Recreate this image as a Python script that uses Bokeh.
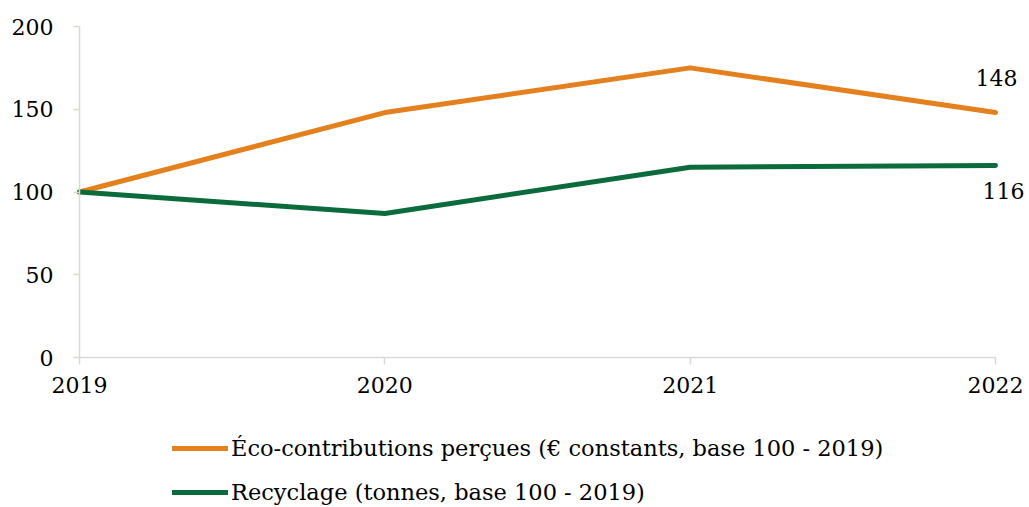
from bokeh.plotting import figure
from bokeh.models import Legend, LegendItem, FixedTicker, Range1d, LinearAxis
from bokeh.core.properties import value
from bokeh.embed import file_html
from bokeh.resources import INLINE

years = [2019, 2020, 2021, 2022]
eco_contrib = [100, 148, 175, 148]
recyclage = [100, 87, 115, 116]
series_names = ["Éco-contributions perçues (€ constants, base 100 - 2019)",
                "Recyclage (tonnes, base 100 - 2019)"]
y_ticks = [0, 50, 100, 150, 200]

FONT = "DejaVu Serif"
ORANGE = "#E5801E"
GREEN = "#0B6B3D"

W, H = 1029, 507
# frame covers the full canvas; axes drawn at fixed data locations
px_per_year = (995 - 79) / 3.0
px_per_unit = (357 - 26) / 200.0
x0 = years[0] - 79 / px_per_year
x1 = years[-1] + (W - 995) / px_per_year
y1 = y_ticks[-1] + 26 / px_per_unit
y0 = y_ticks[0] - (H - 357) / px_per_unit

p = figure(width=W, height=H, output_backend="svg", toolbar_location=None,
           x_range=Range1d(x0, x1), y_range=Range1d(y0, y1),
           x_axis_location=None, y_axis_location=None)
p.min_border_left = 0
p.min_border_right = 0
p.min_border_top = 0
p.min_border_bottom = 0
p.outline_line_color = None
p.xgrid.visible = False
p.ygrid.visible = False
p.background_fill_color = "white"
p.border_fill_color = "white"

xa = LinearAxis(fixed_location=0, bounds=(years[0], years[-1]))
xa.ticker = FixedTicker(ticks=years)
xa.axis_line_color = "#D9D9D9"
xa.axis_line_width = 1.5
xa.major_tick_line_color = "#D9D9D9"
xa.major_tick_line_width = 1.5
xa.major_tick_out = 7
xa.major_tick_in = 0
xa.minor_tick_line_color = None
xa.major_label_standoff = 12
xa.major_label_text_font = FONT
xa.major_label_text_font_size = "22px"
xa.major_label_text_color = "black"
p.add_layout(xa, "below")

ya = LinearAxis(fixed_location=years[0], bounds=(y_ticks[0], y_ticks[-1]))
ya.ticker = FixedTicker(ticks=y_ticks)
ya.axis_line_color = "#DDD9C3"
ya.axis_line_width = 1.5
ya.major_tick_line_color = "#DDD9C3"
ya.major_tick_line_width = 1.5
ya.major_tick_out = 6
ya.major_tick_in = 0
ya.minor_tick_line_color = None
ya.major_label_standoff = 20
ya.major_label_text_font = FONT
ya.major_label_text_font_size = "22px"
ya.major_label_text_color = "black"
p.add_layout(ya, "left")

r1 = p.line(years, eco_contrib, line_color=ORANGE, line_width=5, line_cap="round", line_join="round")
r2 = p.line(years, recyclage, line_color=GREEN, line_width=5, line_cap="round", line_join="round")

p.text(x=[years[-1]], y=[eco_contrib[-1]], text=[str(eco_contrib[-1])],
       x_offset=1, y_offset=-27, text_align="center", text_baseline="bottom",
       text_font=value(FONT), text_font_size="22px", text_color="black")
p.text(x=[years[-1]], y=[recyclage[-1]], text=[str(recyclage[-1])],
       x_offset=8, y_offset=17, text_align="center", text_baseline="top",
       text_font=value(FONT), text_font_size="22px", text_color="black")

legend = Legend(items=[LegendItem(label=series_names[0], renderers=[r1]),
                       LegendItem(label=series_names[1], renderers=[r2])],
                location=(172, 2))
legend.orientation = "vertical"
legend.border_line_color = None
legend.background_fill_alpha = 0
legend.padding = 0
legend.margin = 0
legend.spacing = 18
legend.glyph_width = 56
legend.glyph_height = 26
legend.label_height = 26
legend.label_standoff = 3
legend.label_text_font = FONT
legend.label_text_font_size = "22.5px"
legend.label_text_color = "black"
p.add_layout(legend, "center")

open("out.html", "w").write(file_html(p, INLINE))
